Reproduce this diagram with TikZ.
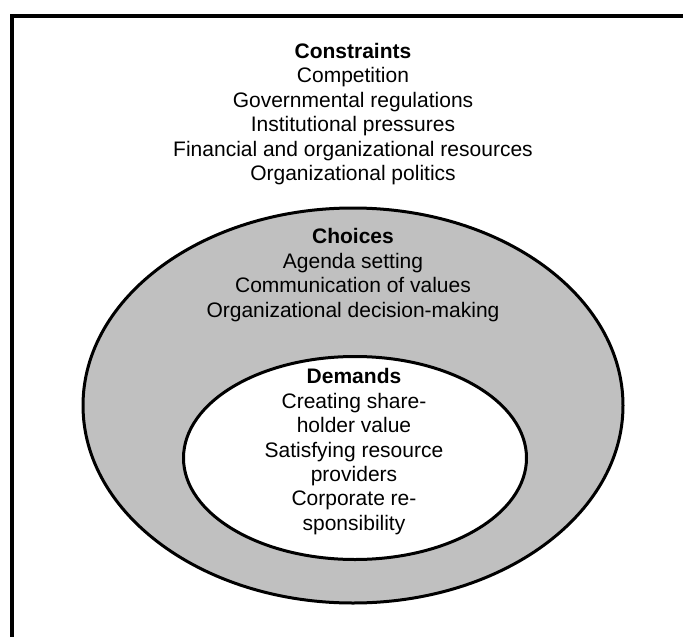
\documentclass[tikz,border=0pt]{standalone}
\usepackage{fontspec}
\setmainfont{Liberation Sans}
\usetikzlibrary{shapes.geometric}
\definecolor{shade}{RGB}{192,192,192}
\tikzstyle{ring}=[shape=ellipse,draw,line width=3pt,inner sep=0pt]
\tikzstyle{txt}=[align=center,inner sep=0pt,anchor=north,font=\fontsize{21}{24.4}\selectfont]
\tikzstyle{frame}=[line width=3.6pt,line join=miter]

\begin{document}
\begin{tikzpicture}[x=1pt,y=-1pt]
        \useasboundingbox (0,0) rectangle (683,637);
        \coordinate (bl) at (12,640);
        \coordinate (tl) at (12,16);
        \coordinate (tr) at (686,16);
        \draw[frame] (bl) -- (tl) -- (tr);
        \node[ring, fill=shade, minimum width=540pt, minimum height=395pt] (outer) at (353,405.5) {};
        \node[ring, fill=white, minimum width=343pt, minimum height=203pt] (inner) at (355,458) {};
        \node[txt] (constraints) at (353,43) {\textbf{Constraints}\\Competition\\Governmental regulations\\Institutional pressures\\Financial and organizational resources\\Organizational politics};
        \node[txt] (choices) at (353,228.5) {\textbf{Choices}\\Agenda setting\\Communication of values\\Organizational decision-making};
        \node[txt] (demands) at (354,368.5) {\textbf{Demands}\\Creating share-\\holder value\\Satisfying resource\\providers\\Corporate re-\\sponsibility};
\end{tikzpicture}
\end{document}
